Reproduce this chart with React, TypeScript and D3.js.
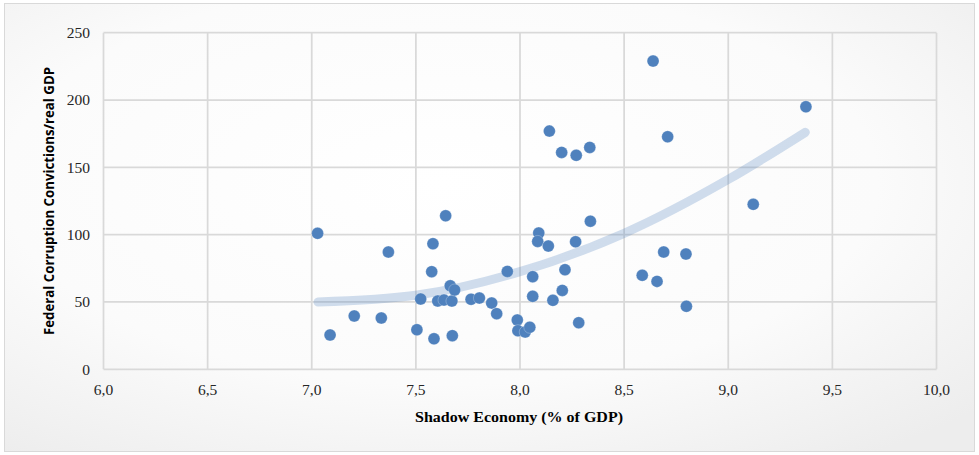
import React from "react";
import * as d3 from "d3";

const xs = [7.028, 7.088, 7.204, 7.334, 7.368, 7.643, 7.582, 7.576, 7.505, 7.523, 7.587, 7.605, 7.635, 7.673, 7.665, 7.686, 7.675, 7.765, 7.805, 7.864, 7.888, 7.939, 7.987, 7.99, 8.025, 8.047, 8.061, 8.061, 8.09, 8.085, 8.136, 8.158, 8.203, 8.216, 8.267, 8.282, 8.338, 8.141, 8.2, 8.27, 8.335, 8.639, 8.709, 9.373, 9.12, 8.69, 8.797, 8.587, 8.658, 8.799];
const ys = [101, 25.5, 39.6, 38.1, 87.1, 114, 93.3, 72.5, 29.4, 52.2, 22.7, 50.7, 51.4, 50.7, 62, 58.9, 25, 52, 52.9, 49.2, 41.3, 72.7, 36.6, 28.7, 27.7, 31.2, 68.8, 54.2, 101.2, 95, 91.5, 51.2, 58.6, 74, 94.7, 34.6, 110, 176.9, 161.1, 158.9, 164.8, 228.9, 172.7, 195, 122.5, 87.1, 85.6, 69.8, 65.3, 46.8];

const trendX = [7.03, 7.5, 8.0, 8.5, 9.0, 9.37];
const trendY = [50, 55, 72.5, 101, 141, 176];

const xTicks = [6, 6.5, 7, 7.5, 8, 8.5, 9, 9.5, 10];
const yTicks = [0, 50, 100, 150, 200, 250];

const xTitle = "Shadow Economy (% of GDP)";
const yTitle = "Federal Corruption Convictions/real GDP";

const SERIF = "'Liberation Serif', 'Times New Roman', serif";

export default function App() {
  const W = 979, H = 455;
  const x = d3.scaleLinear().domain([6, 10]).range([103.5, 936.5]);
  const y = d3.scaleLinear().domain([0, 250]).range([369.3, 32.7]);
  const fmt = (v: number) => v.toFixed(1).replace(".", ",");
  const trend = d3
    .line<number>()
    .x((_, i) => x(trendX[i]))
    .y((d) => y(d))
    .curve(d3.curveMonotoneX)(trendY) as string;

  return (
    <svg width={W} height={H} style={{ position: "absolute", left: 0, top: 0 }}>
      <defs>
        <radialGradient id="bg" cx="45%" cy="40%" r="75%">
          <stop offset="0%" stopColor="#ffffff" />
          <stop offset="60%" stopColor="#fbfbfb" />
          <stop offset="100%" stopColor="#ededed" />
        </radialGradient>
      </defs>
      <rect x={4.5} y={3.5} width={970} height={448} fill="url(#bg)" stroke="#d9d9d9" strokeWidth={1} />
      {xTicks.map((t) => (
        <line key={"gx" + t} x1={x(t)} x2={x(t)} y1={y(0)} y2={y(250)} stroke="#d9d9d9" strokeWidth={1.75} />
      ))}
      {yTicks.map((t) => (
        <line key={"gy" + t} x1={x(6)} x2={x(10)} y1={y(t)} y2={y(t)} stroke="#d9d9d9" strokeWidth={1.75} />
      ))}
      {yTicks.map((t) => (
        <text key={"ty" + t} x={90} y={y(t)} dy="0.35em" textAnchor="end" fontFamily={SERIF} fontSize={15.5} fill="#262626">
          {t}
        </text>
      ))}
      {xTicks.map((t) => (
        <text key={"tx" + t} x={x(t)} y={395} textAnchor="middle" fontFamily={SERIF} fontSize={15.5} fill="#262626">
          {fmt(t)}
        </text>
      ))}
      <path d={trend} fill="none" stroke="#4f81bd" strokeOpacity={0.26} strokeWidth={9} strokeLinecap="round" />
      {xs.map((v, i) => (
        <circle key={"p" + i} cx={x(v)} cy={y(ys[i])} r={6} fill="#4f81bd" stroke="#ffffff" strokeOpacity={0.5} strokeWidth={0.5} />
      ))}
      <text x={519} y={422} textAnchor="middle" fontFamily={SERIF} fontWeight="bold" fontSize={15} textLength={208} lengthAdjust="spacingAndGlyphs" fill="#000">
        {xTitle}
      </text>
      <text transform="translate(54,201) rotate(-90)" textAnchor="middle" fontFamily="'Open Sans', 'Noto Sans', sans-serif" fontWeight="bold" fontSize={14} textLength={268} lengthAdjust="spacingAndGlyphs" fill="#000">
        {yTitle}
      </text>
    </svg>
  );
}
